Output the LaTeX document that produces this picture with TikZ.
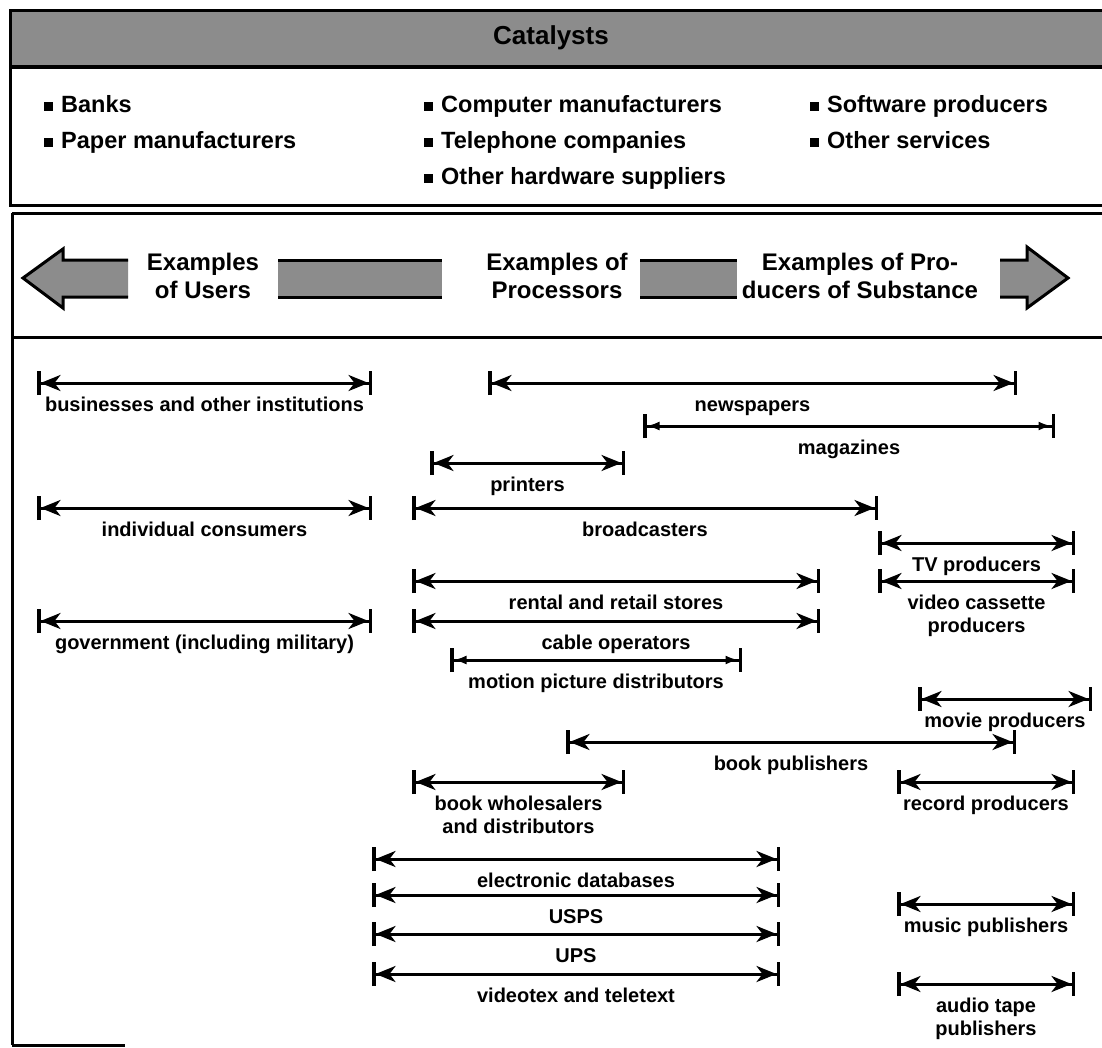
\documentclass[tikz,border=0pt]{standalone}
\usepackage{fontspec}
\setmainfont{Liberation Sans}
\usetikzlibrary{arrows.meta}

% filled square used as list bullet
\newcommand\catbullet{\rule[1.5pt]{9pt}{9pt}\hspace{8pt}}

\tikzset{
  frame/.style={line width=3pt},
  halftone/.style={fill=black!45},
  bigtip/.style={line width=3pt},
  span/.style={line width=3pt,
    {Bar[width=24pt,line width=3.5pt,sep=0pt]Stealth[length=20pt,width=16pt,inset=6pt]}-{Stealth[length=20pt,width=16pt,inset=6pt]Bar[width=24pt,line width=3.5pt,sep=0pt]}},
  slimspan/.style={line width=3pt,
    {Bar[width=24pt,line width=3.5pt,sep=0pt]Latex[length=13pt,width=9pt]}-{Latex[length=13pt,width=9pt]Bar[width=24pt,line width=3.5pt,sep=0pt]}},
  lab/.style={font=\bfseries\fontsize{20}{23}\selectfont, inner sep=0pt,
    anchor=north, align=center, yshift=-11pt},
  head/.style={font=\bfseries\fontsize{24}{28}\selectfont, inner sep=0pt, align=center},
  item/.style={font=\bfseries\fontsize{23.5}{27}\selectfont, inner sep=0pt, anchor=base west},
}

% one labelled range: name, left x, right x, y, style, label
\newcommand\reachbar[6]{%
  \coordinate (#1-l) at (#2,#4);
  \coordinate (#1-r) at (#3,#4);
  \draw[#5] (#1-l) -- (#1-r) node[lab, midway] (#1) {\strut #6};
}

\begin{document}
\begin{tikzpicture}[x=1pt,y=-1pt]
\useasboundingbox (0,0) rectangle (1102,1047);
\clip (0,0) rectangle (1102,1047);
\fill[white] (0,0) rectangle (1102,1047);

% ---- Catalysts panel ----
\fill[halftone] (10,10) rectangle (1120,67);
\draw[frame] (10,10) rectangle (1120,205);
\draw[line width=3.5pt] (10,67) -- (1120,67);
\node[head, font=\bfseries\fontsize{26}{30}\selectfont] (cat) at (551,38) {Catalysts};

\node[item] (banks) at (44,112) {\catbullet Banks};
\node[item] (paper) at (44,148) {\catbullet Paper manufacturers};
\node[item] (comp)  at (424,112) {\catbullet Computer manufacturers};
\node[item] (tel)   at (424,148) {\catbullet Telephone companies};
\node[item] (hw)    at (424,184) {\catbullet Other hardware suppliers};
\node[item] (soft)  at (810,112) {\catbullet Software producers};
\node[item] (serv)  at (810,148) {\catbullet Other services};

% ---- flow header panel ----
\draw[frame] (12,213) -- (1120,213);
\draw[frame] (12,213) -- (12,1045);
\draw[frame] (12,337) -- (1120,337);
\draw[frame] (12,1045) -- (125,1045);

% left block arrow
\fill[halftone] (23,278) -- (63,249) -- (63,260) -- (128,260) -- (128,297) -- (63,297) -- (63,308) -- cycle;
\draw[bigtip, line join=miter] (128,260) -- (63,260) -- (63,249) -- (23,278) -- (63,308) -- (63,297) -- (128,297);
% connecting bars
\fill[halftone] (278,260) rectangle (442,297);
\draw[bigtip] (278,260) -- (442,260) (278,297) -- (442,297);
\fill[halftone] (640,260) rectangle (737,297);
\draw[bigtip] (640,260) -- (737,260) (640,297) -- (737,297);
% right block arrow
\fill[halftone] (1000,260) -- (1027,260) -- (1027,247) -- (1068,278) -- (1027,308) -- (1027,297) -- (1000,297) -- cycle;
\draw[bigtip, line join=miter] (1000,260) -- (1027,260) -- (1027,247) -- (1068,278) -- (1027,308) -- (1027,297) -- (1000,297);

\node[head] (users) at (203,276) {Examples\\of Users};
\node[head] (procs) at (557,276) {Examples of\\Processors};
\node[head] (subst) at (860,276) {Examples of Pro-\\ducers of Substance};

% ---- ranges ----
\reachbar{biz}{37}{372}{383}{span}{businesses and other institutions}
\reachbar{news}{488}{1017}{383}{span}{newspapers}
\reachbar{mag}{643}{1055}{426}{slimspan}{magazines}
\reachbar{print}{430}{625}{463}{span}{printers}
\reachbar{indiv}{37}{372}{508}{span}{individual consumers}
\reachbar{broad}{412}{878}{508}{span}{broadcasters}
\reachbar{tv}{878}{1075}{543}{span}{TV producers}
\reachbar{rental}{412}{820}{581}{span}{rental and retail stores}
\reachbar{vcp}{878}{1075}{581}{span}{video cassette\\producers}
\reachbar{gov}{37}{372}{621}{span}{government (including military)}
\reachbar{cable}{412}{820}{621}{span}{cable operators}
\reachbar{mpd}{450}{742}{660}{slimspan}{motion picture distributors}
\reachbar{movie}{918}{1092}{699}{span}{movie producers}
\reachbar{bookpub}{566}{1016}{742}{span}{book publishers}
\reachbar{bookwh}{412}{625}{782}{span}{book wholesalers\\and distributors}
\reachbar{record}{897}{1075}{782}{span}{record producers}
\reachbar{edb}{372}{780}{859}{span}{electronic databases}
\reachbar{usps}{372}{780}{895}{span}{USPS}
\reachbar{music}{897}{1075}{904}{span}{music publishers}
\reachbar{ups}{372}{780}{934}{span}{UPS}
\reachbar{vtx}{372}{780}{974}{span}{videotex and teletext}
\reachbar{audio}{897}{1075}{984}{span}{audio tape\\publishers}
\end{tikzpicture}
\end{document}
